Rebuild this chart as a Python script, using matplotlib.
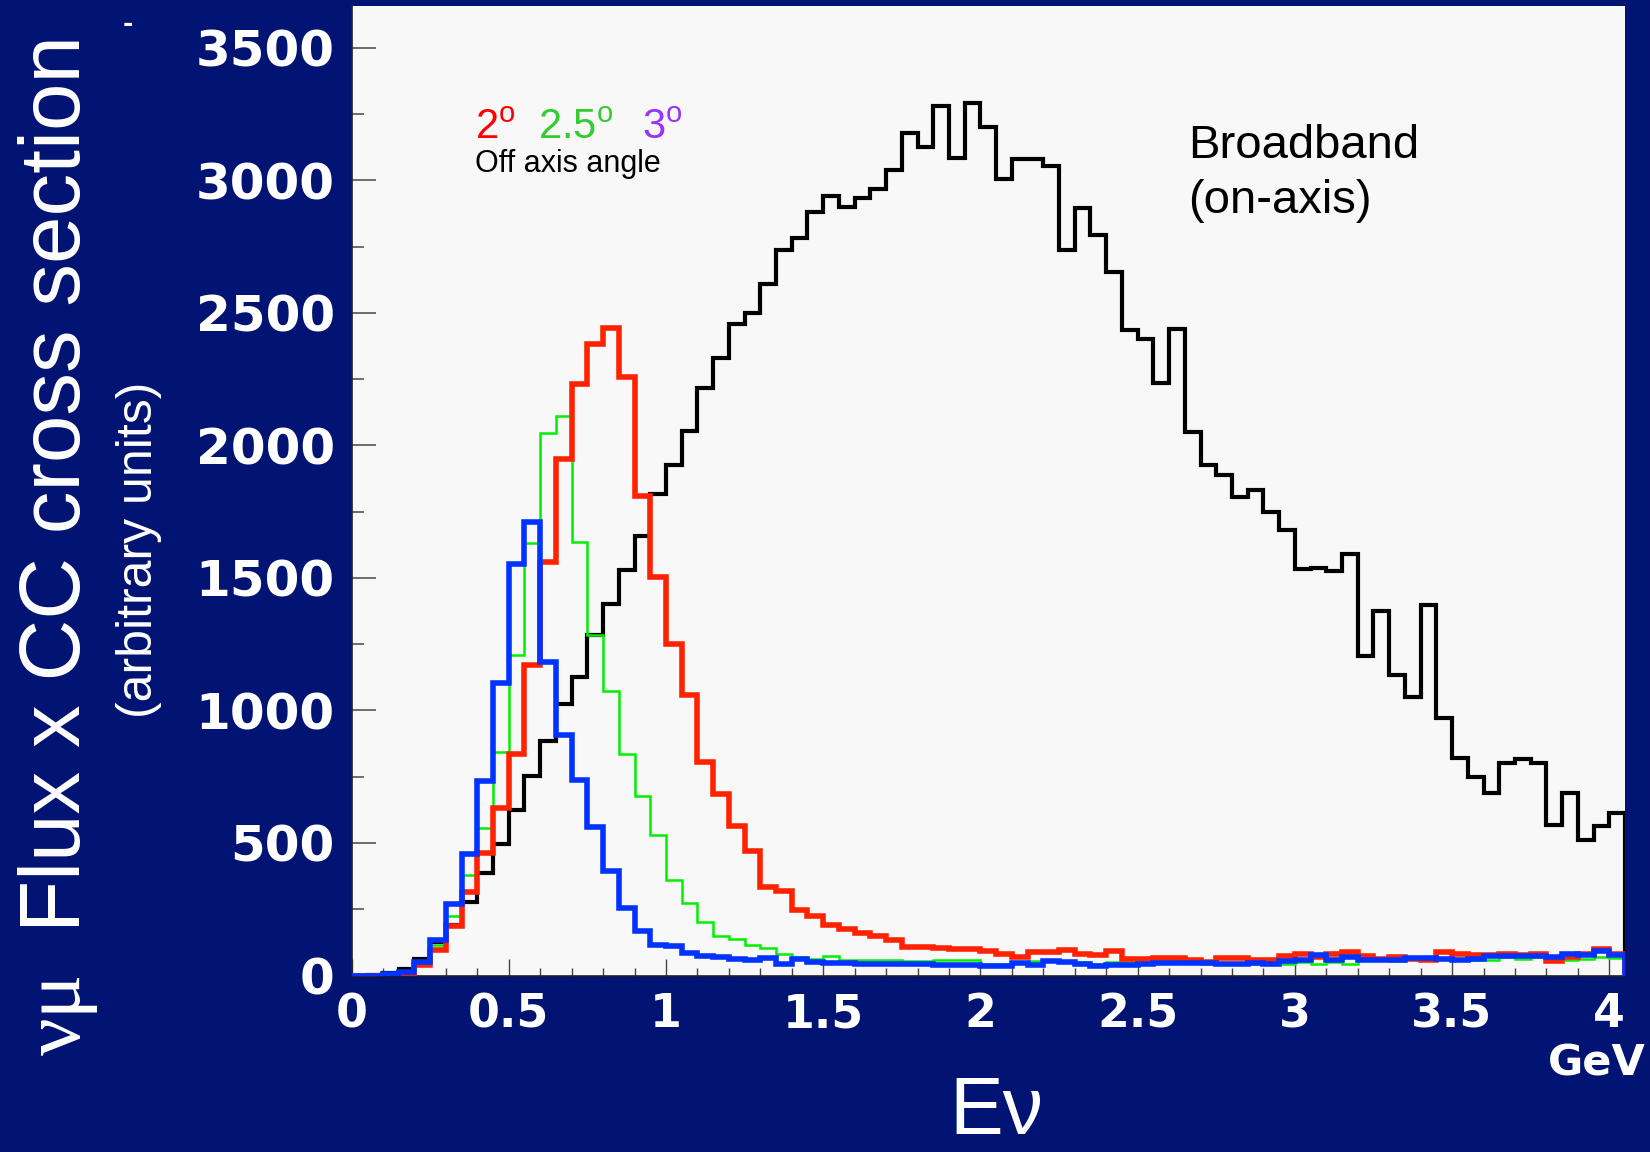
import matplotlib
matplotlib.use("Agg")
import matplotlib.pyplot as plt
import numpy as np

# ---------------- data (bin contents, 0.05 GeV bins from 0 to 4.05 GeV) ----------------
bin_width = 0.05
n_bins = 81

broadband = [0, 2, 11, 26, 64, 125, 189, 277, 387, 498, 623, 752, 885, 1026, 1127, 1284,
             1403, 1529, 1657, 1818, 1925, 2054, 2218, 2328, 2460, 2500, 2610, 2737, 2781,
             2881, 2940, 2900, 2934, 2966, 3041, 3179, 3126, 3280, 3086, 3293, 3202, 3004,
             3079, 3079, 3055, 2737, 2894, 2793, 2655, 2435, 2403, 2234, 2440, 2051, 1925,
             1888, 1806, 1831, 1748, 1682, 1533, 1538, 1525, 1590, 1206, 1376, 1134, 1051,
             1399, 972, 821, 748, 687, 802, 815, 802, 566, 687, 512, 563, 614]

off_axis_2deg = [0, 0, 2, 8, 40, 97, 188, 316, 462, 633, 836, 1171, 1560, 1947, 2233, 2381,
                 2443, 2259, 1808, 1504, 1249, 1057, 806, 686, 563, 470, 334, 319, 249, 223,
                 192, 177, 160, 148, 135, 108, 108, 104, 101, 101, 93, 82, 70, 89, 89, 95, 82,
                 76, 93, 64, 64, 67, 67, 60, 51, 67, 66, 57, 60, 72, 82, 70, 80, 87, 72, 64,
                 70, 64, 60, 87, 80, 76, 76, 82, 76, 82, 55, 70, 82, 101, 80]

off_axis_2p5deg = [0, 0, 3, 10, 45, 114, 225, 378, 557, 844, 1208, 1630, 2047, 2110, 1636,
                   1286, 1074, 835, 676, 529, 362, 274, 202, 150, 139, 114, 105, 82, 70, 64,
                   72, 60, 60, 60, 57, 55, 55, 57, 57, 60, 42, 45, 51, 54, 57, 51, 51, 45, 51,
                   51, 60, 64, 57, 51, 45, 45, 42, 45, 42, 45, 51, 45, 51, 42, 60, 57, 55, 64,
                   60, 67, 60, 60, 57, 70, 64, 70, 60, 60, 64, 70, 67]

off_axis_3deg = [0, 0, 7, 13, 51, 135, 271, 457, 733, 1105, 1552, 1711, 1183, 906, 739, 561,
                 394, 256, 168, 114, 110, 85, 72, 70, 64, 57, 67, 45, 64, 51, 47, 47, 45, 45,
                 45, 42, 42, 41, 41, 38, 35, 35, 47, 38, 55, 51, 45, 35, 38, 38, 45, 47, 47,
                 48, 47, 45, 45, 47, 45, 55, 57, 76, 60, 70, 60, 57, 57, 67, 67, 64, 57, 64,
                 72, 72, 72, 72, 70, 80, 76, 93, 76]

x_ticks = [0, 0.5, 1, 1.5, 2, 2.5, 3, 3.5, 4]
x_tick_labels = ["0", "0.5", "1", "1.5", "2", "2.5", "3", "3.5", "4"]
y_ticks = [0, 500, 1000, 1500, 2000, 2500, 3000, 3500]
y_tick_labels = ["0", "500", "1000", "1500", "2000", "2500", "3000", "3500"]

angle_labels = ["2$^{\\mathrm{o}}$", "2.5$^{\\mathrm{o}}$", "3$^{\\mathrm{o}}$"]

# ---------------- styling ----------------
plt.rcParams["mathtext.fontset"] = "custom"
plt.rcParams["mathtext.rm"] = "Liberation Sans"
plt.rcParams["mathtext.it"] = "Liberation Sans:italic"
plt.rcParams["mathtext.bf"] = "Liberation Sans:bold"

NAVY = "#011473"
PANEL = "#f8f8f8"
W, H = 1650, 1152


def fx(px):
    return px / W


def fy(py):
    return 1 - py / H


fig = plt.figure(figsize=(16.5, 11.52), dpi=100, facecolor=NAVY)
ax = fig.add_axes([fx(351.5), fy(975.5), (1625 - 351.5) / W, (975.5 - 6) / H])
ax.set_facecolor(PANEL)

edges = np.round(np.arange(n_bins + 1) * bin_width, 4)

ax.stairs(broadband, edges, baseline=0, color="black", lw=3.0, zorder=2)
ax.stairs(off_axis_2p5deg, edges, baseline=0, color="#00f000", lw=1.8, zorder=3)
ax.stairs(off_axis_2deg, edges, baseline=0, color="#ff2200", lw=4.0, zorder=4)
ax.stairs(off_axis_3deg, edges, baseline=0, color="#0033ff", lw=4.0, zorder=5)

ax.set_xlim(0, edges[-1])
ax.set_ylim(0, 3658)

ax.set_xticks(x_ticks)
ax.set_xticks(np.round(np.arange(0, 4.05, 0.1), 2), minor=True)
ax.set_xticklabels(x_tick_labels, fontsize=33, fontweight="bold",
                   color="white", family="DejaVu Sans")
ax.set_yticks(y_ticks)
ax.set_yticks(np.arange(0, 3660, 250), minor=True)
ax.set_yticklabels(y_tick_labels, fontsize=36, fontweight="bold",
                   color="white", family="DejaVu Sans")

ax.tick_params(axis="x", which="major", direction="in", length=12, width=1,
               color="#444444", pad=12, top=False)
ax.tick_params(axis="x", which="minor", direction="in", length=6, width=1,
               color="#444444", top=False)
ax.tick_params(axis="y", which="major", direction="in", length=17, width=1.2,
               color="#555555", pad=12, right=False)
ax.tick_params(axis="y", which="minor", direction="in", length=8.5, width=1.2,
               color="#555555", right=False)

for side in ("top", "right"):
    ax.spines[side].set_visible(False)
for side in ("left", "bottom"):
    ax.spines[side].set_color("#222222")
    ax.spines[side].set_linewidth(1.2)

# ---------------- axis titles ----------------
fig.text(fx(80), fy(1055), "νμ", rotation=90, rotation_mode="anchor",
         ha="left", va="baseline", color="white", fontsize=60,
         family=["Liberation Serif", "DejaVu Serif"])
fig.text(fx(80), fy(932), "Flux x CC cross section", rotation=90,
         rotation_mode="anchor", ha="left", va="baseline", color="white",
         fontsize=61.5, family=["Liberation Sans", "DejaVu Sans"])
fig.text(fx(152), fy(550), "(arbitrary units)", rotation=90,
         rotation_mode="anchor", ha="center", va="baseline", color="white",
         fontsize=36, family=["Liberation Sans", "DejaVu Sans"])
fig.text(fx(128), fy(24), "-", ha="center", va="center", color="white",
         fontsize=18, fontweight="bold")

fig.text(fx(996), fy(1134), "Eν", ha="center", va="baseline", color="white",
         fontsize=58, family=["Liberation Sans", "DejaVu Sans"])
fig.text(fx(1646), fy(1076), "GeV", ha="right", va="baseline", color="white",
         fontsize=31, fontweight="bold", family="DejaVu Sans")

# ---------------- annotations ----------------
SANS = ["Liberation Sans", "DejaVu Sans"]
fig.text(fx(475), fy(139), angle_labels[0], color="#ff0000", fontsize=30,
         family=SANS, ha="left", va="baseline")
fig.text(fx(538), fy(139), angle_labels[1], color="#33cc33", fontsize=30,
         family=SANS, ha="left", va="baseline")
fig.text(fx(642), fy(139), angle_labels[2], color="#9933ff", fontsize=30,
         family=SANS, ha="left", va="baseline")
fig.text(fx(475), fy(172), "Off axis angle", color="black", fontsize=22,
         family=SANS, ha="left", va="baseline")

fig.text(fx(1188), fy(158), "Broadband", color="black", fontsize=34,
         family=SANS, ha="left", va="baseline")
fig.text(fx(1188), fy(213), "(on-axis)", color="black", fontsize=34,
         family=SANS, ha="left", va="baseline")

fig.savefig("out.png", dpi=100, facecolor=NAVY)
